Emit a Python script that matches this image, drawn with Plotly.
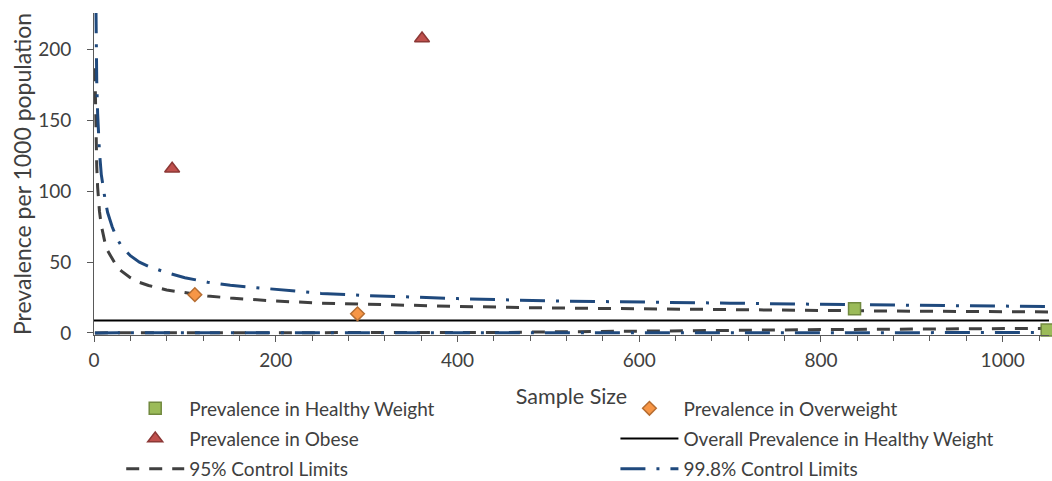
import plotly.graph_objects as go

# ---- data ----
healthy_n = [837, 1049]
healthy_v = [17.0, 2.0]
over_n = [111, 290]
over_v = [27.0, 13.5]
obese_n = [86, 361]
obese_v = [116.0, 208.0]

overall_n = [0, 1051]
overall_v = [8.8, 8.8]

ucl_n = [1, 2, 3, 4, 5, 6, 8, 10, 12, 15, 20, 25, 30, 40, 50, 60, 80, 100, 125, 150,
         200, 250, 300, 400, 500, 600, 700, 800, 900, 1000, 1051]
ucl95_v = [187, 140, 118, 103, 93, 86, 76, 69, 64, 58, 52, 47, 43.8, 39, 35.7, 33.5, 30.3, 28.2,
           26.1, 24.6, 22.5, 21.0, 20.1, 18.7, 17.6, 16.9, 16.2, 15.7, 15.3, 15.0, 14.8]
ucl998_v = [300, 215, 178, 155, 139, 128, 112, 102, 95, 85, 75, 67, 61.5, 54.5, 50, 47, 42.5, 39,
            35.8, 33.6, 30.5, 27.9, 26.4, 24.2, 22.6, 21.6, 21.0, 20.2, 19.5, 18.9, 18.6]

lcl95_n = [1, 100, 200, 300, 430, 450, 500, 600, 700, 800, 900, 1000, 1051]
lcl95_v = [0, 0, 0, 0, 0, 0.3, 0.7, 1.4, 1.9, 2.3, 2.7, 3.0, 3.2]
lcl998_n = [1, 200, 400, 600, 800, 1000, 1020, 1051]
lcl998_v = [0, 0, 0, 0, 0, 0, 0, 0.2]

x_ticks = [0, 200, 400, 600, 800, 1000]
y_ticks = [0, 50, 100, 150, 200]

FONT = "Lato"
TXT = "#404040"
GRAY = "#404040"
BLUE = "#1F497D"
AX = "#595959"

fig = go.Figure()

# 95% limits
fig.add_trace(go.Scatter(x=ucl_n, y=ucl95_v, mode="lines", name="95% Control Limits",
                         line=dict(color=GRAY, width=3, dash="13px,10px"),
                         legend="legend", legendgroup="g95", legendrank=3))
fig.add_trace(go.Scatter(x=lcl95_n, y=lcl95_v, mode="lines", name="95% Control Limits",
                         line=dict(color=GRAY, width=3, dash="13px,10px"),
                         legend="legend", legendgroup="g95", showlegend=False, legendrank=3))
# 99.8% limits
fig.add_trace(go.Scatter(x=ucl_n, y=ucl998_v, mode="lines", name="99.8% Control Limits",
                         line=dict(color=BLUE, width=3, dash="25px,11px,3px,11px"),
                         legend="legend2", legendgroup="g998", legendrank=3))
fig.add_trace(go.Scatter(x=lcl998_n, y=lcl998_v, mode="lines", name="99.8% Control Limits",
                         line=dict(color=BLUE, width=3, dash="25px,11px,3px,11px"),
                         legend="legend2", legendgroup="g998", showlegend=False, legendrank=3))
# overall prevalence
fig.add_trace(go.Scatter(x=overall_n, y=overall_v, mode="lines",
                         name="Overall Prevalence in Healthy Weight",
                         line=dict(color="black", width=2),
                         legend="legend2", legendgroup="gall", legendrank=2))
# points
fig.add_trace(go.Scatter(x=healthy_n, y=healthy_v, mode="markers", name="Prevalence in Healthy Weight",
                         marker=dict(symbol="square", size=12, color="#9BBB59",
                                     line=dict(color="#71893F", width=1.5)),
                         cliponaxis=False, legend="legend", legendgroup="gh", legendrank=1))
fig.add_trace(go.Scatter(x=over_n, y=over_v, mode="markers", name="Prevalence in Overweight",
                         marker=dict(symbol="diamond", size=10.5, color="#F79646",
                                     line=dict(color="#B66D31", width=1.5)),
                         cliponaxis=False, legend="legend2", legendgroup="go", legendrank=1))
fig.add_trace(go.Scatter(x=obese_n, y=obese_v, mode="markers", name="Prevalence in Obese",
                         marker=dict(symbol="triangle-up", size=13, color="#C0504D",
                                     line=dict(color="#8C3836", width=1.5)),
                         cliponaxis=False, legend="legend", legendgroup="gob", legendrank=2))

legend_common = dict(orientation="v", xanchor="left", yanchor="top", itemwidth=58,
                     tracegroupgap=2.5, bgcolor="rgba(0,0,0,0)",
                     font=dict(family=FONT, size=19, color=TXT), traceorder="grouped")

fig.update_layout(
    width=1052, height=481,
    margin=dict(l=94, r=3, t=13, b=146, autoexpand=False),
    plot_bgcolor="white", paper_bgcolor="white",
    font=dict(family=FONT, color=TXT),
    showlegend=True,
    legend=dict(x=0.0285, y=-0.169, **legend_common),
    legend2=dict(x=0.546, y=-0.169, **legend_common),
    xaxis=dict(range=[0, 1051], tickvals=x_ticks, ticktext=[str(v) for v in x_ticks],
               automargin=False,
               showgrid=False, zeroline=False, showline=True, linecolor=AX, linewidth=1,
               ticks="outside", ticklen=6, tickcolor=AX,
               minor=dict(dtick=40, ticks="outside", ticklen=5, tickcolor=AX, showgrid=False),
               tickfont=dict(family=FONT, size=19, color=TXT), ticklabelstandoff=2,
               title=dict(text="Sample Size", font=dict(family=FONT, size=21.5, color=TXT), standoff=19)),
    yaxis=dict(range=[-1.5, 226], tickvals=y_ticks, ticktext=[str(v) for v in y_ticks],
               automargin=False,
               showgrid=False, zeroline=False, showline=True, linecolor=AX, linewidth=1,
               ticks="outside", ticklen=6, tickcolor=AX,
               tickfont=dict(family=FONT, size=19, color=TXT), ticklabelstandoff=12,
               title=dict(text="Prevalence per 1000 population", font=dict(family=FONT, size=23, color=TXT),
                          standoff=0)),
)

fig.write_html("out.html", config={"displayModeBar": False},
               post_script="document.body.style.margin='0px';")
